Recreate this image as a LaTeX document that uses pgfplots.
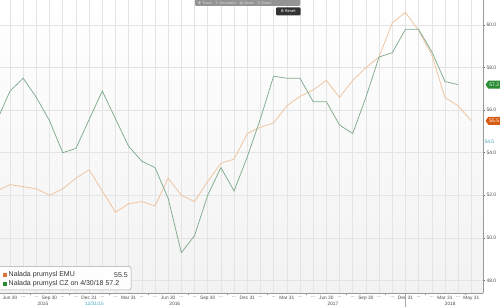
\documentclass[border=0pt]{standalone}
\usepackage{pgfplots}
\pgfplotsset{compat=1.18}
\usepackage{fontspec}
\setmainfont{Liberation Sans}
\newfontfamily\dejavu{DejaVu Sans}
\usetikzlibrary{shapes.symbols}
\definecolor{lgreen}{RGB}{128,172,142}
\definecolor{lorange}{RGB}{240,194,155}
\definecolor{taggreen}{RGB}{40,140,50}
\definecolor{tagorange}{RGB}{214,92,18}
\definecolor{gridc}{RGB}{228,228,228}
\definecolor{cyanlab}{RGB}{60,160,190}
\newcommand\dd{..{}.}
\begin{document}
\begin{tikzpicture}[x=1pt,y=1pt]
\useasboundingbox (0,0) rectangle (500,307);
\begin{axis}[
  at={(0pt,307pt)}, anchor=north west,
  scale only axis, width=483.3pt, height=293.3pt,
  xmin=-0.76, xmax=35.91, ymin=47.39, ymax=61.18,
  axis x line=bottom, axis y line=right,
  axis line style={-, draw=black!40, line width=0.6pt},
  axis background/.style={top color=white, bottom color=black!5},
  grid=major,
  major grid style={gridc, line width=0.5pt},
  xtick={0,1,2,3,4,5,6,7,8,9,10,11,12,13,14,15,16,17,18,19,20,21,22,23,24,25,26,27,28,29,30,31,32,33,34,35},
  xticklabels={Jun 30,\dd,\dd,Sep 30,\dd,\dd,Dec 31,\dd,\dd,Mar 31,\dd,\dd,Jun 30,\dd,\dd,Sep 30,\dd,\dd,Dec 31,\dd,\dd,Mar 31,\dd,\dd,Jun 30,\dd,\dd,Sep 30,\dd,\dd,Dec 31,\dd,\dd,Mar 31,\dd,May 31},
  minor xtick={1.5,4.5,7.5,10.5,13.5,16.5,19.5,22.5,25.5,28.5,31.5,34.5},
  ytick={48,50,52,54,56,58,60},
  tick align=outside,
  major tick length=2pt, minor tick length=2pt,
  major x tick style={draw=none},
  minor x tick style={draw=black!40, line width=0.4pt},
  ytick style={draw=black!60, line width=0.5pt},
  xticklabel style={font=\fontsize{4.8}{5}\selectfont, text=black!70, inner sep=1pt},
  yticklabel style={font=\fontsize{5}{6}\selectfont, text=black!70, inner sep=1pt},
  y tick label style={/pgf/number format/.cd, fixed, fixed zerofill, precision=1},
  /pgf/number format/assume math mode=true,
]
\addplot[lorange, line width=0.75pt] coordinates {
(-1,52.2) (0,52.5) (1,52.4) (2,52.3) (3,52.0) (4,52.3) (5,52.8) (6,53.2)
(7,52.2) (8,51.2) (9,51.6) (10,51.7) (11,51.5) (12,52.8) (13,52.0) (14,51.7)
(15,52.65) (16,53.5) (17,53.7) (18,54.9) (19,55.2) (20,55.4) (21,56.2) (22,56.65)
(23,56.95) (24,57.4) (25,56.6) (26,57.4) (27,58.0) (28,58.5) (29,60.1) (30,60.6)
(31,59.75) (32,58.6) (33,56.6) (34,56.2) (35,55.5)
};
\addplot[lgreen, line width=0.75pt] coordinates {
(-1,55.5) (0,56.9) (1,57.5) (2,56.6) (3,55.5) (4,54.0) (5,54.2) (6,55.55)
(7,56.9) (8,55.6) (9,54.3) (10,53.6) (11,53.3) (12,51.85) (13,49.3) (14,50.1)
(15,52.0) (16,53.3) (17,52.2) (18,53.8) (19,55.6) (20,57.6) (21,57.5) (22,57.5)
(23,56.4) (24,56.4) (25,55.3) (26,54.9) (27,56.6) (28,58.5) (29,58.7) (30,59.8)
(31,59.8) (32,58.75) (33,57.35) (34,57.2)
};
\coordinate (tg) at (axis cs:35.91,57.2);
\coordinate (to) at (axis cs:35.91,55.5);
\coordinate (tb) at (axis cs:35.91,54.5);
\coordinate (y15) at (axis cs:2.5,47.39);
\coordinate (y1231) at (axis cs:6.4,47.39);
\coordinate (y16) at (axis cs:12.5,47.39);
\coordinate (y17) at (axis cs:24.5,47.39);
\coordinate (y18) at (axis cs:33.4,47.39);
\coordinate (sep) at (axis cs:30,47.39);
\end{axis}
% value tags on the right
\node[signal, signal to=west, signal pointer angle=110, fill=taggreen, text=white, inner sep=1pt, minimum height=8pt, anchor=west, font=\fontsize{5}{6}\selectfont] at ([xshift=2pt]tg) {57.2};
\node[signal, signal to=west, signal pointer angle=110, fill=tagorange, text=white, inner sep=1pt, minimum height=8pt, anchor=west, font=\fontsize{5}{6}\selectfont] at ([xshift=2pt]to) {55.5};
\node[anchor=west, text=cyanlab, inner sep=0pt, font=\fontsize{5}{6}\selectfont] at ([xshift=1pt]tb) {54.5};
% year labels
\node[font=\fontsize{4.8}{5}\selectfont, text=black!70, inner sep=0pt] at ([yshift=-10.5pt]y15) {2015};
\node[font=\fontsize{4.8}{5}\selectfont, text=cyanlab, inner sep=0pt] at ([yshift=-10.5pt]y1231) {12/31/15};
\node[font=\fontsize{4.8}{5}\selectfont, text=black!70, inner sep=0pt] at ([yshift=-10.5pt]y16) {2016};
\node[font=\fontsize{4.8}{5}\selectfont, text=black!70, inner sep=0pt] at ([yshift=-10.5pt]y17) {2017};
\node[font=\fontsize{4.8}{5}\selectfont, text=black!70, inner sep=0pt] at ([yshift=-10.5pt]y18) {2018};
\draw[black!35, line width=0.5pt] ([yshift=-1pt]sep) -- ++(0,-14);
% legend
\draw[rounded corners=2pt, fill=white, fill opacity=0.92, draw=black!35, line width=0.5pt] (-2,17) rectangle (131,40.5);
\fill[tagorange!85] (2.5,30) rectangle (6.5,34);
\fill[taggreen] (2.5,21) rectangle (6.5,25);
\node[anchor=west, inner sep=0pt, font=\fontsize{7}{8}\selectfont, text=black!80] at (8.5,32) {Nalada prumysl EMU};
\node[anchor=east, inner sep=0pt, font=\fontsize{7}{8}\selectfont, text=black!80] at (128,32) {55.5};
\node[anchor=west, inner sep=0pt, font=\fontsize{7}{8}\selectfont, text=black!80] at (8.5,23) {Nalada prumysl CZ on 4/30/18 57.2};
% toolbar overlay
\fill[black!42, rounded corners=1pt] (195,309) rectangle (300,301);
\node[anchor=west, inner sep=0pt, text=black!15, font=\dejavu\fontsize{3.6}{4}\selectfont] at (198,304) {✚ Track\quad ✎ Annotate\quad ▤ News\quad ⚲ Zoom};
\fill[black!80, rounded corners=1pt] (276,299.5) rectangle (300.5,291.5);
\node[anchor=center, inner sep=0pt, text=white, font=\dejavu\fontsize{3.8}{4}\selectfont] at (288.2,295.5) {⚙ Reset};
\end{tikzpicture}
\end{document}
